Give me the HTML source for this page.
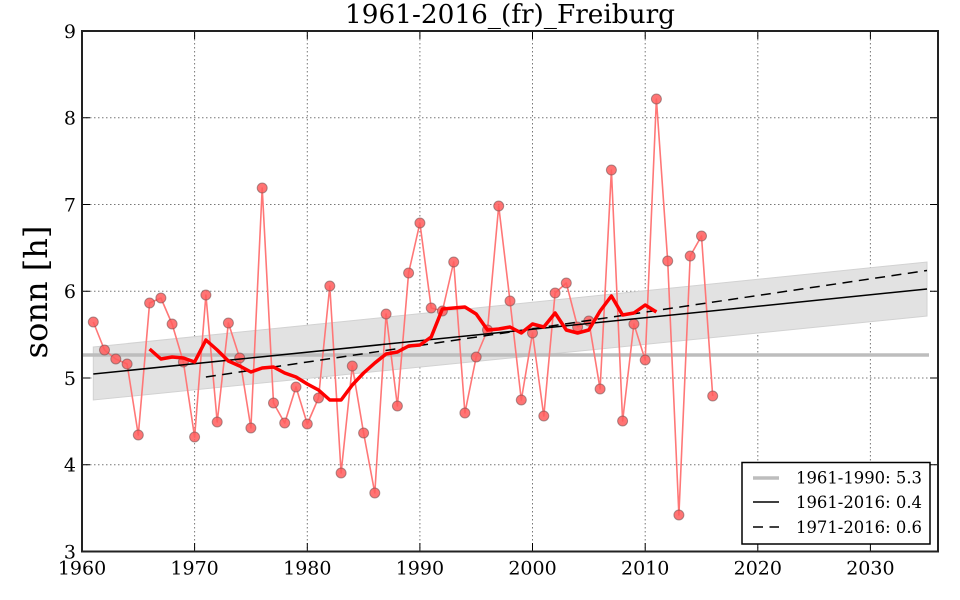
<!DOCTYPE html>
<html><head><meta charset="utf-8"><style>
html,body{margin:0;padding:0;background:#fff;}
svg{display:block;}
text{font-family:"DejaVu Serif","Liberation Serif",serif;fill:#000;}
</style></head><body>
<svg width="960" height="600" viewBox="0 0 960 600" xmlns="http://www.w3.org/2000/svg">
<rect x="0" y="0" width="960" height="600" fill="#fff"/>
<!-- grid -->
<g stroke="#777" stroke-width="1" stroke-dasharray="1.5,2.5" fill="none">
<line x1="194.6" y1="31" x2="194.6" y2="551.5"/>
<line x1="307.3" y1="31" x2="307.3" y2="551.5"/>
<line x1="419.9" y1="31" x2="419.9" y2="551.5"/>
<line x1="532.5" y1="31" x2="532.5" y2="551.5"/>
<line x1="645.2" y1="31" x2="645.2" y2="551.5"/>
<line x1="757.8" y1="31" x2="757.8" y2="551.5"/>
<line x1="870.4" y1="31" x2="870.4" y2="551.5"/>
<line x1="82" y1="117.75" x2="938" y2="117.75"/>
<line x1="82" y1="204.5" x2="938" y2="204.5"/>
<line x1="82" y1="291.25" x2="938" y2="291.25"/>
<line x1="82" y1="378" x2="938" y2="378"/>
<line x1="82" y1="464.75" x2="938" y2="464.75"/>
</g>
<!-- confidence band -->
<polygon points="93.3,347 927,262 927,316 93.3,400" fill="#e2e2e2" stroke="#d2d2d2" stroke-width="1"/>
<!-- reference mean line -->
<line x1="82" y1="355" x2="929" y2="355" stroke="#bdbdbd" stroke-width="3.5"/>
<!-- data line -->
<polyline fill="none" stroke="#ff7777" stroke-width="1.6" stroke-linejoin="round" points="93.3,322 104.5,350 115.8,359 127.1,364 138.3,435 149.6,303 160.9,298 172.1,324 183.4,362 194.6,437 205.9,295 217.2,422 228.4,323 239.7,358 250.9,428 262.2,188 273.5,403 284.7,423 296.0,387 307.3,424 318.5,398 329.8,286 341.1,473 352.3,366 363.6,433 374.8,493 386.1,314 397.4,406 408.6,273 419.9,223 431.2,308 442.4,311 453.7,262 464.9,413 476.2,357 487.5,330 498.7,206 510.0,301 521.3,400 532.5,333 543.8,416 555.1,293 566.3,283 577.6,327 588.8,321 600.1,389 611.4,170 622.6,421 633.9,324 645.2,360 656.4,99 667.7,261 678.9,515 690.2,256 701.5,236 712.7,396"/>
<!-- markers -->
<g fill="#ff5c5c" fill-opacity="0.85" stroke="#6a4a4a" stroke-opacity="0.55" stroke-width="1">
<circle cx="93.3" cy="322" r="5"/><circle cx="104.5" cy="350" r="5"/><circle cx="115.8" cy="359" r="5"/><circle cx="127.1" cy="364" r="5"/><circle cx="138.3" cy="435" r="5"/><circle cx="149.6" cy="303" r="5"/><circle cx="160.9" cy="298" r="5"/><circle cx="172.1" cy="324" r="5"/><circle cx="183.4" cy="362" r="5"/><circle cx="194.6" cy="437" r="5"/><circle cx="205.9" cy="295" r="5"/><circle cx="217.2" cy="422" r="5"/><circle cx="228.4" cy="323" r="5"/><circle cx="239.7" cy="358" r="5"/><circle cx="250.9" cy="428" r="5"/><circle cx="262.2" cy="188" r="5"/><circle cx="273.5" cy="403" r="5"/><circle cx="284.7" cy="423" r="5"/><circle cx="296.0" cy="387" r="5"/><circle cx="307.3" cy="424" r="5"/><circle cx="318.5" cy="398" r="5"/><circle cx="329.8" cy="286" r="5"/><circle cx="341.1" cy="473" r="5"/><circle cx="352.3" cy="366" r="5"/><circle cx="363.6" cy="433" r="5"/><circle cx="374.8" cy="493" r="5"/><circle cx="386.1" cy="314" r="5"/><circle cx="397.4" cy="406" r="5"/><circle cx="408.6" cy="273" r="5"/><circle cx="419.9" cy="223" r="5"/><circle cx="431.2" cy="308" r="5"/><circle cx="442.4" cy="311" r="5"/><circle cx="453.7" cy="262" r="5"/><circle cx="464.9" cy="413" r="5"/><circle cx="476.2" cy="357" r="5"/><circle cx="487.5" cy="330" r="5"/><circle cx="498.7" cy="206" r="5"/><circle cx="510.0" cy="301" r="5"/><circle cx="521.3" cy="400" r="5"/><circle cx="532.5" cy="333" r="5"/><circle cx="543.8" cy="416" r="5"/><circle cx="555.1" cy="293" r="5"/><circle cx="566.3" cy="283" r="5"/><circle cx="577.6" cy="327" r="5"/><circle cx="588.8" cy="321" r="5"/><circle cx="600.1" cy="389" r="5"/><circle cx="611.4" cy="170" r="5"/><circle cx="622.6" cy="421" r="5"/><circle cx="633.9" cy="324" r="5"/><circle cx="645.2" cy="360" r="5"/><circle cx="656.4" cy="99" r="5"/><circle cx="667.7" cy="261" r="5"/><circle cx="678.9" cy="515" r="5"/><circle cx="690.2" cy="256" r="5"/><circle cx="701.5" cy="236" r="5"/><circle cx="712.7" cy="396" r="5"/>
</g>
<!-- trend lines -->
<line x1="93.3" y1="374" x2="927" y2="289" stroke="#000" stroke-width="1.5"/>
<line x1="205.9" y1="377" x2="927" y2="270.5" stroke="#000" stroke-width="1.5" stroke-dasharray="10,6.5"/>
<!-- moving average -->
<polyline fill="none" stroke="#ff0000" stroke-width="3.5" stroke-linejoin="round" points="149.6,349 160.9,359 172.1,357 183.4,358 194.6,362 205.9,340 217.2,350 228.4,361 239.7,366 250.9,372 262.2,368 273.5,367 284.7,373 296.0,377 307.3,384 318.5,390 329.8,400 341.1,400 352.3,385 363.6,373 374.8,363 386.1,354 397.4,352 408.6,346 419.9,345 431.2,337 442.4,309 453.7,308 464.9,307 476.2,314 487.5,330 498.7,329 510.0,327 521.3,333 532.5,324 543.8,327 555.1,313 566.3,330 577.6,333 588.8,330 600.1,311 611.4,296 622.6,315 633.9,313 645.2,305 656.4,312"/>
<!-- ticks -->
<g stroke="#000" stroke-width="1">
<line x1="194.6" y1="551.5" x2="194.6" y2="543"/><line x1="307.3" y1="551.5" x2="307.3" y2="543"/><line x1="419.9" y1="551.5" x2="419.9" y2="543"/><line x1="532.5" y1="551.5" x2="532.5" y2="543"/><line x1="645.2" y1="551.5" x2="645.2" y2="543"/><line x1="757.8" y1="551.5" x2="757.8" y2="543"/><line x1="870.4" y1="551.5" x2="870.4" y2="543"/>
<line x1="194.6" y1="31" x2="194.6" y2="39"/><line x1="307.3" y1="31" x2="307.3" y2="39"/><line x1="419.9" y1="31" x2="419.9" y2="39"/><line x1="532.5" y1="31" x2="532.5" y2="39"/><line x1="645.2" y1="31" x2="645.2" y2="39"/><line x1="757.8" y1="31" x2="757.8" y2="39"/><line x1="870.4" y1="31" x2="870.4" y2="39"/>
<line x1="82" y1="117.75" x2="90" y2="117.75"/><line x1="82" y1="204.5" x2="90" y2="204.5"/><line x1="82" y1="291.25" x2="90" y2="291.25"/><line x1="82" y1="378" x2="90" y2="378"/><line x1="82" y1="464.75" x2="90" y2="464.75"/>
<line x1="938" y1="117.75" x2="930" y2="117.75"/><line x1="938" y1="204.5" x2="930" y2="204.5"/><line x1="938" y1="291.25" x2="930" y2="291.25"/><line x1="938" y1="378" x2="930" y2="378"/><line x1="938" y1="464.75" x2="930" y2="464.75"/>
</g>
<!-- axes frame -->
<rect x="82" y="31" width="856" height="520.5" fill="none" stroke="#222" stroke-width="2"/>
<!-- y tick labels -->
<g font-size="19" text-anchor="end">
<text x="76" y="38">9</text>
<text x="76" y="124.7">8</text>
<text x="76" y="211.5">7</text>
<text x="76" y="298.2">6</text>
<text x="76" y="385">5</text>
<text x="76" y="471.7">4</text>
<text x="76" y="558.5">3</text>
</g>
<!-- x tick labels -->
<g font-size="19" text-anchor="middle">
<text x="82" y="574.5">1960</text>
<text x="194.6" y="574.5">1970</text>
<text x="307.3" y="574.5">1980</text>
<text x="419.9" y="574.5">1990</text>
<text x="532.5" y="574.5">2000</text>
<text x="645.2" y="574.5">2010</text>
<text x="757.8" y="574.5">2020</text>
<text x="870.4" y="574.5">2030</text>
</g>
<!-- title -->
<text x="510" y="23" font-size="26.5" text-anchor="middle" textLength="330" lengthAdjust="spacingAndGlyphs">1961-2016_(fr)_Freiburg</text>
<!-- y label -->
<text transform="translate(47,292) rotate(-90)" font-size="32" text-anchor="middle">sonn [h]</text>
<!-- legend -->
<rect x="742" y="462.5" width="188" height="81.5" fill="#fff" stroke="#000" stroke-width="1.5"/>
<line x1="753" y1="478" x2="779" y2="478" stroke="#bdbdbd" stroke-width="3.5"/>
<line x1="753" y1="502" x2="779" y2="502" stroke="#000" stroke-width="1.5"/>
<line x1="753" y1="527" x2="779" y2="527" stroke="#000" stroke-width="1.5" stroke-dasharray="10,6.5"/>
<g font-size="16.4">
<text x="796" y="483.5" textLength="126" lengthAdjust="spacingAndGlyphs">1961-1990: 5.3</text>
<text x="796" y="508" textLength="126" lengthAdjust="spacingAndGlyphs">1961-2016: 0.4</text>
<text x="796" y="533" textLength="126" lengthAdjust="spacingAndGlyphs">1971-2016: 0.6</text>
</g>
</svg>
</body></html>
